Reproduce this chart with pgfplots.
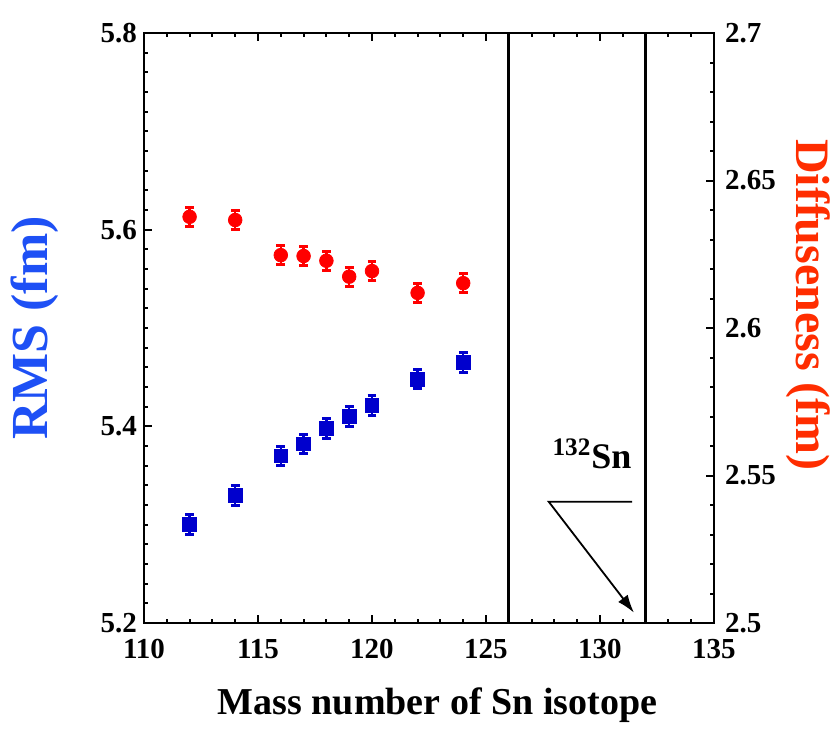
\documentclass[border=0pt]{standalone}
\usepackage{pgfplots}
\pgfplotsset{compat=1.18}
\usepackage{pgfplotstable}
\usetikzlibrary{arrows.meta}
\usepackage{fontspec}
\setmainfont{Liberation Serif}
\definecolor{rmsblue}{RGB}{30,80,245}
\definecolor{ptblue}{RGB}{0,0,205}
\definecolor{diffred}{RGB}{255,45,0}
\definecolor{ptred}{RGB}{255,0,0}

\pgfplotstableread{
x   y      e
112 5.300  0.010
114 5.330  0.010
116 5.370  0.010
117 5.382  0.010
118 5.398  0.010
119 5.410  0.010
120 5.421  0.010
122 5.448  0.010
124 5.465  0.010
}\rmsdata

\pgfplotstableread{
x   y       e
112 2.6377  0.0032
114 2.6366  0.0032
116 2.6247  0.0032
117 2.6244  0.0032
118 2.6228  0.0032
119 2.6174  0.0032
120 2.6193  0.0032
122 2.6119  0.0032
124 2.6152  0.0032
}\diffdata

\begin{document}
\begin{tikzpicture}
\path[use as bounding box] (-72pt,-53.5pt) rectangle (346.5pt,311.5pt);
\pgfplotsset{
  common/.style={
    scale only axis, width=285pt, height=295pt,
    xmin=110, xmax=135,
    axis line style={line width=1.1pt},
    tick style={line width=1pt, black},
    major tick length=4pt, minor tick length=2pt,
    tick align=inside,
    scaled ticks=false,
    /pgf/number format/assume math mode=true,
    tick label style={font=\bfseries\fontsize{14.5}{14.5}\selectfont},
  }
}
\begin{axis}[common,
  ymin=5.2, ymax=5.8,
  ytick={5.2,5.4,5.6,5.8}, minor y tick num=9,
  xtick={110,115,120,125,130,135}, minor x tick num=4,
  ytick pos=left, xtick pos=both, xticklabel pos=bottom,
  xticklabel style={yshift=-4.5pt},
  xlabel={Mass number of Sn isotope},
  xlabel style={font=\bfseries\fontsize{19}{19}\selectfont, at={(axis description cs:0.515,-0.139)}, anchor=center},
  ylabel={RMS (fm)},
  ylabel style={font=\bfseries\fontsize{26}{26}\selectfont, color=rmsblue, at={(axis description cs:-0.191,0.5)}, anchor=center},
]
\addplot[black, line width=1.3pt] coordinates {(126,5.2) (126,5.8)};
\addplot[black, line width=1.3pt] coordinates {(132,5.2) (132,5.8)};
\addplot[only marks, mark=square*, mark size=3.4pt, color=ptblue,
  error bars/.cd, y dir=both, y explicit, error mark=-,
  error bar style={line width=1.2pt, color=ptblue},
  error mark options={rotate=90, line width=1.5pt, mark size=2.2pt, color=ptblue}]
  table[x=x, y=y, y error=e] {\rmsdata};
\node[font=\bfseries\fontsize{18}{18}\selectfont, anchor=base] at (axis cs:129.65,5.3576) {\textsuperscript{132}Sn};
\draw[line width=0.9pt, -{Latex[length=9pt,width=6pt]}] (axis cs:131.41,5.3234) -- (axis cs:127.75,5.3234) -- (axis cs:131.49,5.2105);
\end{axis}

\begin{axis}[common,
  ymin=2.5, ymax=2.7,
  ytick={2.5,2.55,2.6,2.65,2.7}, minor y tick num=4,
  ytick pos=right, yticklabel pos=right,
  yticklabel style={xshift=2pt},
  xtick=\empty,
  ylabel={Diffuseness (fm)},
  ylabel style={font=\bfseries\fontsize{24}{24}\selectfont, color=diffred, at={(axis description cs:1.165,0.539)}, anchor=center, rotate=180},
]
\addplot[only marks, mark=*, mark size=3.4pt, color=ptred,
  error bars/.cd, y dir=both, y explicit, error mark=-,
  error bar style={line width=1.2pt, color=ptred},
  error mark options={rotate=90, line width=1.5pt, mark size=2.2pt, color=ptred}]
  table[x=x, y=y, y error=e] {\diffdata};
\end{axis}
\end{tikzpicture}
\end{document}
